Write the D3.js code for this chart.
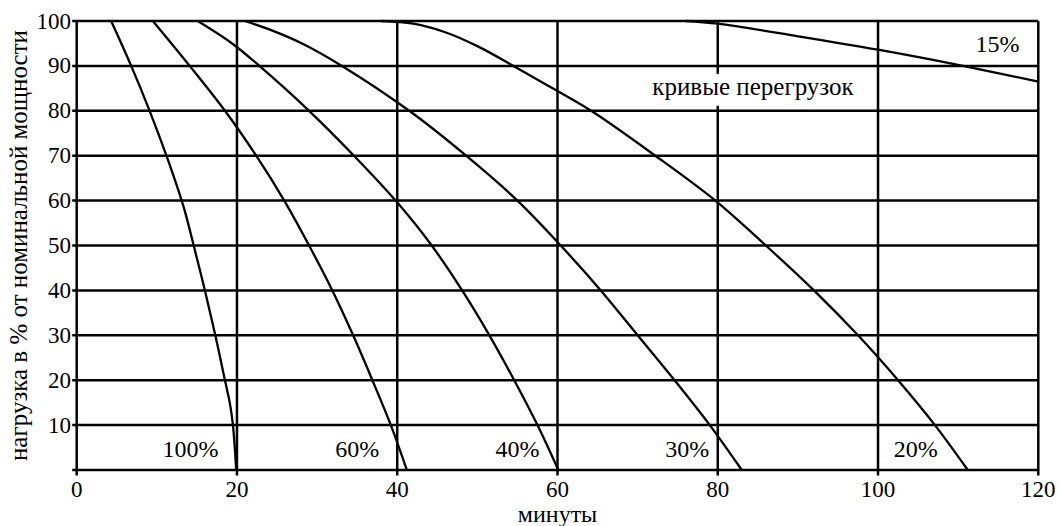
<!DOCTYPE html>
<html><head><meta charset="utf-8">
<script src="https://cdn.jsdelivr.net/npm/d3@7/dist/d3.min.js"></script>
<style>
html,body{margin:0;padding:0;background:#fff;}
svg{display:block;}
text{font-family:"Liberation Serif","DejaVu Serif",serif;}
</style></head>
<body>
<svg id="chart" width="1062" height="526"></svg>
<script>
// ---- data ----
const xTicks = [0, 20, 40, 60, 80, 100, 120];
const yTicks = [10, 20, 30, 40, 50, 60, 70, 80, 90, 100];
const yLines = [0, 10, 20, 30, 40, 50, 60, 70, 80, 90, 100];
const xTitle = "минуты";
const yTitle = "нагрузка в % от номинальной мощности";
const noteText = "кривые перегрузок";

const curve100x = [4.3, 6.8, 9.1, 11.2, 13.1, 13.6, 14.6, 16.0, 17.3, 18.5, 19.1, 19.5, 19.9];
const curve100y = [100, 90, 80, 70, 60, 57, 50, 40, 30, 20, 15, 10, 0];
const curve60x = [9.5, 14.1, 18.5, 22.4, 25.9, 29.0, 31.9, 34.5, 36.9, 39.2, 41.2];
const curve60y = [100, 90, 80, 70, 60, 50, 40, 30, 20, 10, 0];
const curve40x = [15.1, 19.4, 22.8, 29.0, 34.6, 39.8, 44.3, 48.1, 51.5, 54.6, 57.5, 60.1];
const curve40y = [100, 95, 90, 80, 70, 60, 50, 40, 30, 20, 10, 0];
const curve30x = [21.0, 24.5, 28.0, 33.1, 41.5, 48.6, 55.0, 60.4, 65.4, 70.0, 74.6, 79.0, 83.0];
const curve30y = [100, 97.8, 95.1, 90, 80, 70, 60, 50, 40, 30, 20, 10, 0];
const curve20x = [38.0, 42.0, 46.0, 50.0, 54.5, 59.4, 64.2, 72.2, 79.7, 86.0, 92.0, 97.5, 102.5, 107.1, 111.2];
const curve20y = [100, 99.4, 97.5, 94.4, 90, 85, 80, 70, 60, 50, 40, 30, 20, 10, 0];
const curve15x = [76, 80, 90, 100, 110.6, 120];
const curve15y = [100, 99.4, 96.6, 93.6, 90, 86.5];

const curveNames = ["100%", "60%", "40%", "30%", "20%", "15%"];
const labelX = [14.2, 35.0, 55.0, 76.2, 104.7, 114.9];
const labelY = [3, 3, 3, 3, 3, 93];
const noteX = 84.4;
const noteY = 83.5;

// ---- layout ----
const svg = d3.select("#chart");
const x = d3.scaleLinear().domain([0, 120]).range([76.7, 1038.3]);
const y = d3.scaleLinear().domain([0, 100]).range([470, 21]);
const ink = "#000";
const serif = "Liberation Serif, DejaVu Serif, serif";

// horizontal lines (with short tick stubs on left)
svg.append("g").selectAll("line").data(yLines).join("line")
  .attr("x1", x(0) - 4.5).attr("x2", x(120))
  .attr("y1", d => y(d)).attr("y2", d => y(d))
  .attr("stroke", ink).attr("stroke-width", 2.5);

// vertical lines (with tick stubs at bottom)
svg.append("g").selectAll("line").data(xTicks).join("line")
  .attr("x1", d => x(d)).attr("x2", d => x(d))
  .attr("y1", y(100)).attr("y2", y(0) + 5.5)
  .attr("stroke", ink).attr("stroke-width", 2.5);

// white background behind the note (breaks the gridline)
const bg = svg.append("rect").attr("fill", "#fff");

// curves
const series = [
  [curve100x, curve100y], [curve60x, curve60y], [curve40x, curve40y],
  [curve30x, curve30y], [curve20x, curve20y], [curve15x, curve15y]
];
const line = d3.line().x(d => x(d[0])).y(d => y(d[1])).curve(d3.curveCatmullRom.alpha(0.5));
svg.append("g").selectAll("path").data(series).join("path")
  .attr("d", s => line(s[0].map((v, i) => [v, s[1][i]])))
  .attr("fill", "none").attr("stroke", ink).attr("stroke-width", 2.3)
  .attr("stroke-linejoin", "round");

// note
const note = svg.append("text")
  .attr("x", x(noteX)).attr("y", y(noteY))
  .attr("text-anchor", "middle").attr("font-family", serif)
  .attr("font-size", 25).attr("fill", ink)
  .text(noteText);
const nb = note.node().getBBox();
bg.attr("x", nb.x - 2).attr("y", y(90) + 8)
  .attr("width", nb.width + 4).attr("height", (y(80) - 5) - (y(90) + 8));

// curve labels
svg.append("g").selectAll("text").data(curveNames).join("text")
  .attr("x", (d, i) => x(labelX[i])).attr("y", (d, i) => y(labelY[i]))
  .attr("text-anchor", "middle").attr("font-family", serif)
  .attr("font-size", 24).attr("fill", ink)
  .text(d => d);

// tick labels
svg.append("g").selectAll("text").data(yTicks).join("text")
  .attr("x", 71).attr("y", d => y(d)).attr("dy", "0.33em")
  .attr("text-anchor", "end").attr("font-family", serif)
  .attr("font-size", 23).attr("fill", ink)
  .text(d => d);
svg.append("g").selectAll("text").data(xTicks).join("text")
  .attr("x", d => x(d)).attr("y", 497)
  .attr("text-anchor", "middle").attr("font-family", serif)
  .attr("font-size", 23).attr("fill", ink)
  .text(d => d);

// axis titles
svg.append("text")
  .attr("x", x(60)).attr("y", 522)
  .attr("text-anchor", "middle").attr("font-family", serif)
  .attr("font-size", 24).attr("fill", ink)
  .text(xTitle);
svg.append("text")
  .attr("transform", `translate(27,${(y(0) + y(100)) / 2}) rotate(-90)`)
  .attr("text-anchor", "middle").attr("font-family", serif)
  .attr("font-size", 25).attr("fill", ink)
  .text(yTitle);
</script>
</body></html>
